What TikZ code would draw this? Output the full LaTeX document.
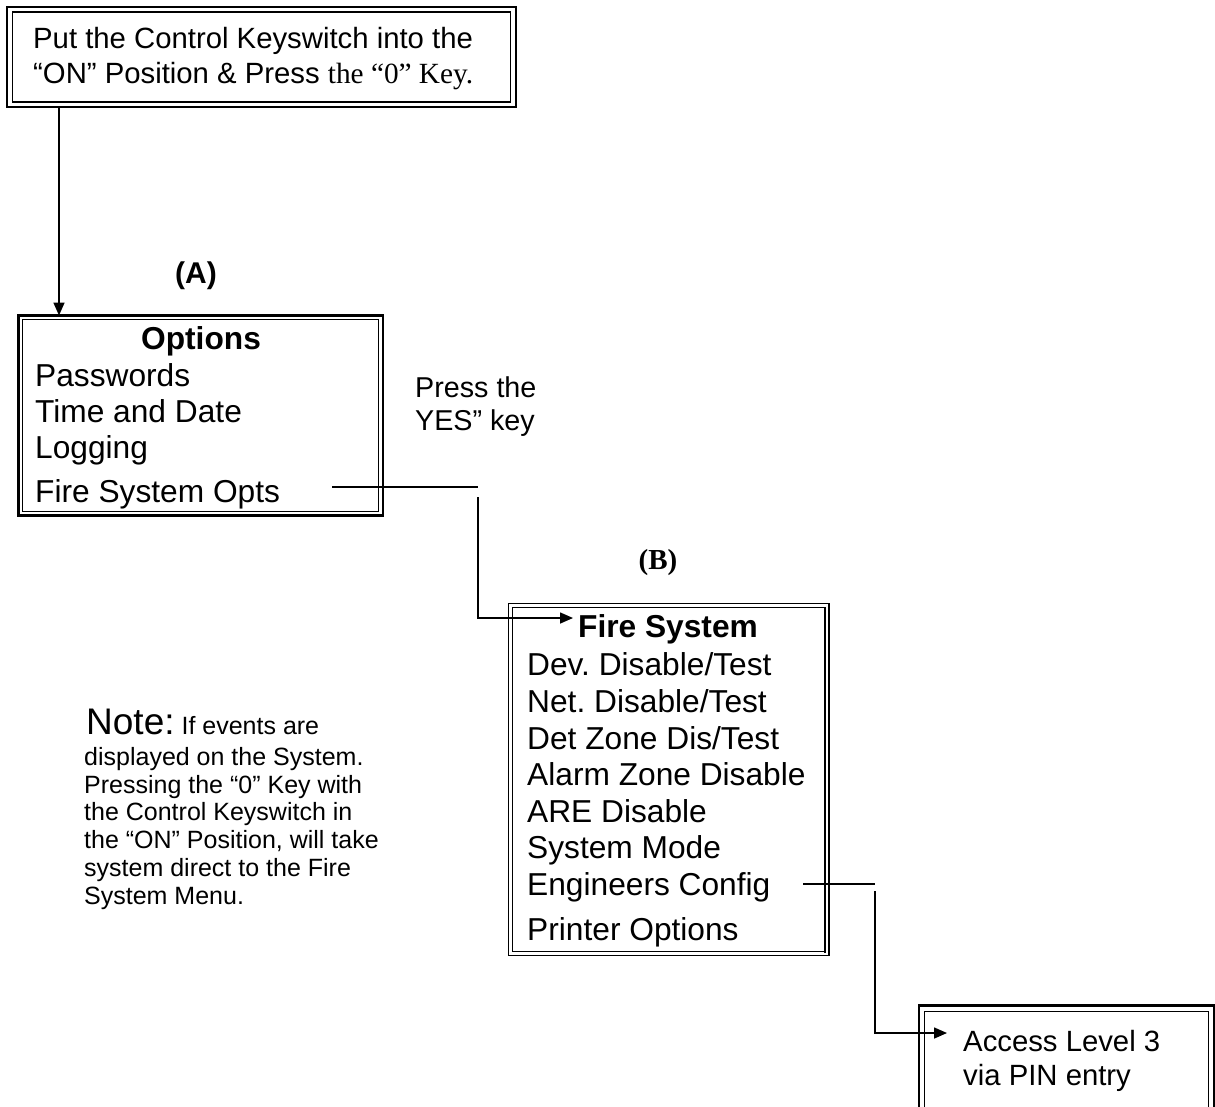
\documentclass[tikz,border=0pt]{standalone}
\usepackage{fontspec}
\setmainfont{Liberation Sans}
\newfontfamily\tms{Liberation Serif}
\usetikzlibrary{arrows.meta,calc}
\frenchspacing
\begin{document}
\begin{tikzpicture}[x=1pt,y=-1pt,
  outerln/.style={draw,line width=2.7pt,inner sep=0pt,outer sep=0pt,anchor=north west},
  thinbox/.style={draw,line width=1.5pt,inner sep=0pt,outer sep=0pt,anchor=north west},
  innerln/.style={line width=1.3pt},
  conn/.style={line width=1.6pt},
  tip/.style={-{Triangle[length=13pt,width=11pt]}},
  menu/.style={anchor=base west,inner sep=0pt,font=\fontsize{31.7}{36}\selectfont},
  menutitle/.style={anchor=base,inner sep=0pt,font=\fontsize{31.7}{36}\selectfont\bfseries},
  toptxt/.style={anchor=base west,inner sep=0pt,font=\fontsize{29.3}{35}\selectfont},
  notetxt/.style={anchor=base west,inner sep=0pt,font=\fontsize{25}{28}\selectfont},
  lbl/.style={anchor=base,inner sep=0pt}
]
\useasboundingbox (0,0) rectangle (1215,1106);
\clip (0,0) rectangle (1215,1106);
\fill[white] (0,0) rectangle (1215,1106);

% ---------- top box ----------
\node[outerln,minimum width=509pt,minimum height=100pt] (topbox) at (7,7) {};
\draw[innerln] ($(topbox.north west)+(5.5pt,-5pt)$) rectangle ($(topbox.south east)+(-5.5pt,5pt)$);
\node[toptxt] (t1) at (33,48) {Put the Control Keyswitch into the};
\node[toptxt] (t2) at (33,83) {“ON” Position \& Press {\tms the “0” Key.}};

% ---------- options box ----------
\node[lbl,font=\fontsize{30}{36}\selectfont\bfseries] (labA) at (196,283) {(A)};
\node[outerln,minimum width=364.5pt,minimum height=200pt] (optbox) at (18.5,315.5) {};
\draw[innerln] ($(optbox.north west)+(4.3pt,-4.3pt)$) rectangle ($(optbox.south east)+(-4.3pt,4.3pt)$);
\node[menutitle] (opttitle) at (201,349) {Options};
\node[menu] (p1) at (35,386) {Passwords};
\node[menu] (p2) at (35,422) {Time and Date};
\node[menu] (p3) at (35,458) {Logging};
\node[menu] (p4) at (35,502) {Fire System Opts};

\node[toptxt,font=\fontsize{28.7}{33}\selectfont] (press1) at (415,397) {Press the};
\node[toptxt,font=\fontsize{28.7}{33}\selectfont] (press2) at (415,430) {YES” key};

% ---------- fire system box ----------
\node[lbl,font=\fontsize{29}{34}\selectfont\tms\bfseries] (labB) at (658,569) {(B)};
\node[thinbox,minimum width=320.7pt,minimum height=352.4pt] (fsbox) at (508.3,603.3) {};
\draw[line width=1.5pt] ($(fsbox.north west)+(4pt,-4pt)$) rectangle ($(fsbox.south east)+(-4pt,4pt)$);
\draw[line width=2.7pt] (825,913) -- (825,953);
\node[menutitle] (fstitle) at (668,637) {Fire System};
\node[menu] (f1) at (527,675) {Dev. Disable/Test};
\node[menu] (f2) at (527,712) {Net. Disable/Test};
\node[menu] (f3) at (527,749) {Det Zone Dis/Test};
\node[menu] (f4) at (527,785) {Alarm Zone Disable};
\node[menu] (f5) at (527,822) {ARE Disable};
\node[menu] (f6) at (527,858) {System Mode};
\node[menu] (f7) at (527,895) {Engineers Config};
\node[menu] (f8) at (527,940) {Printer Options};

% ---------- note ----------
\node[notetxt] (n1) at (86,734) {{\fontsize{37}{40}\selectfont Note:} If events are};
\node[notetxt] (n2) at (84,765.5) {displayed on the System.};
\node[notetxt] (n3) at (84,793.2) {Pressing the “0” Key with};
\node[notetxt] (n4) at (84,820.9) {the Control Keyswitch in};
\node[notetxt] (n5) at (84,848.6) {the “ON” Position, will take};
\node[notetxt] (n6) at (84,876.3) {system direct to the Fire};
\node[notetxt] (n7) at (84,904) {System Menu.};

% ---------- access box ----------
\node[outerln,minimum width=295pt,minimum height=130pt] (accbox) at (919,1005.7) {};
\draw[innerln] ($(accbox.north west)+(5.5pt,-6pt)$) rectangle ($(accbox.south east)+(-5.5pt,6pt)$);
\node[toptxt] (a1) at (963,1051) {Access Level 3};
\node[toptxt] (a2) at (963,1085) {via PIN entry};

% ---------- connectors ----------
\coordinate (c1) at (59,0);
\draw[conn,tip] (c1 |- topbox.south) -- (c1 |- optbox.north);

\coordinate (o1) at (332,487);
\coordinate (k1) at (478,487);
\coordinate (k2) at (478,497);
\coordinate (fsin) at (573,618);
\draw[conn] (o1) -- (k1);
\draw[conn,tip] (k2) |- (fsin);

\coordinate (e1) at (803,884);
\coordinate (k3) at (875,884);
\coordinate (k4) at (875,891);
\coordinate (accin) at (947,1033);
\draw[conn] (e1) -- (k3);
\draw[conn,tip] (k4) |- (accin);
\end{tikzpicture}
\end{document}
